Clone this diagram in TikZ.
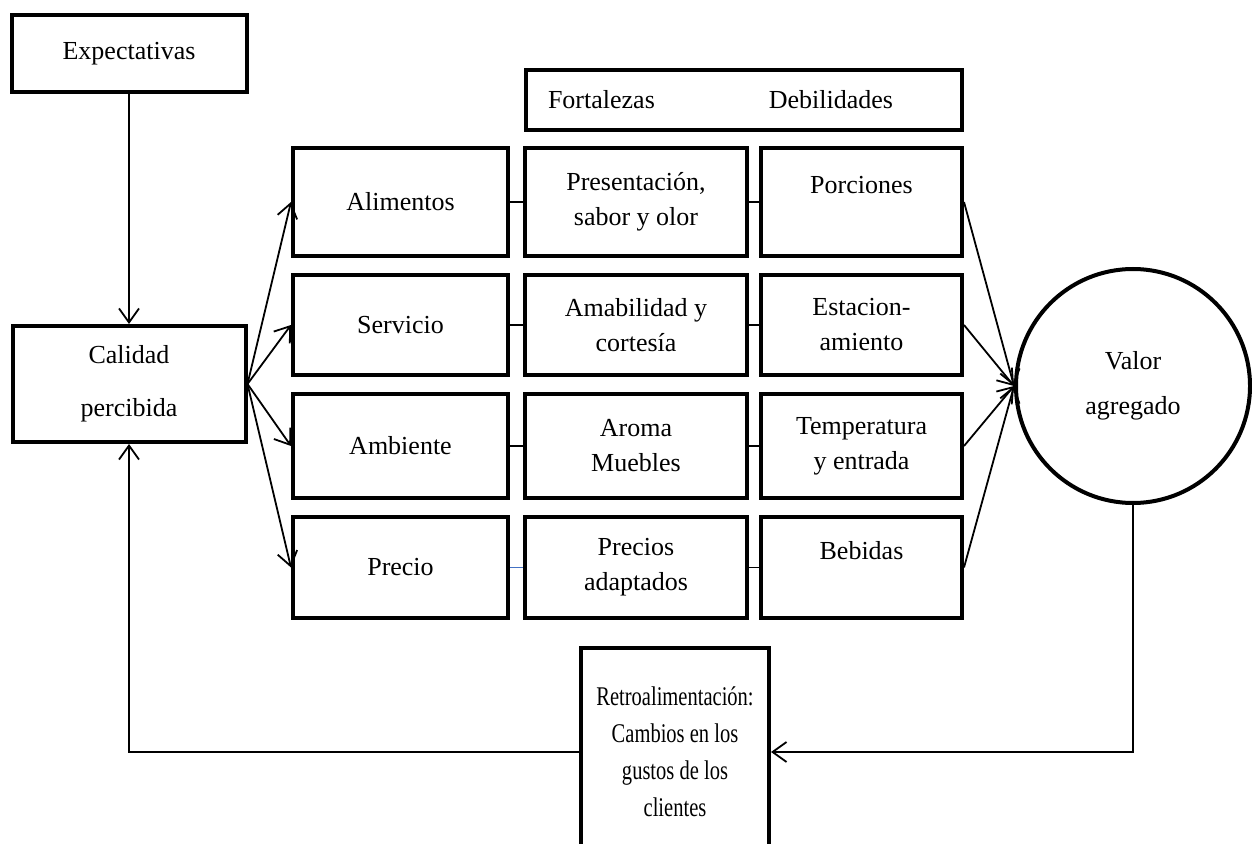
\documentclass[tikz,border=0pt]{standalone}
\usepackage{fontspec}
\setmainfont{Liberation Serif}
\newfontfamily\narrowserif[FakeStretch=0.76]{Liberation Serif}
\definecolor{linkblue}{RGB}{68, 114, 196}
\usepackage{tikz}
\usetikzlibrary{arrows.meta, positioning, calc}

\tikzset{
  box/.style={draw, line width=2pt, align=center, inner sep=2pt, font=\fontsize{13}{17.5}\selectfont},
  conn/.style={line width=0.9pt},
  arr/.style={conn, -{Straight Barb[length=7pt, width=10pt, line width=0.9pt]}}
}

\begin{document}
\begin{tikzpicture}[x=0.5pt, y=-0.5pt]
  \clip (0,0) rectangle (1252,844);

  \node[box, minimum width=117.5pt, minimum height=38.5pt] (expect) at (129,53.5) {Expectativas};
  \node[box, minimum width=116.5pt, minimum height=58pt, font=\fontsize{13}{26.5}\selectfont] (calidad) at (129,384) {Calidad\\percibida};

  \node[box, minimum width=218pt, minimum height=30pt, text width=196pt, inner xsep=11pt, align=left] (fd) at (744,100) {Fortalezas\hspace{57pt}Debilidades};

  % factores
  \node[box, minimum width=107.5pt, minimum height=54pt] (alim) at (400.5,202) {Alimentos};
  \node[box, minimum width=107.5pt, minimum height=50pt] (serv) at (400.5,325) {Servicio};
  \node[box, minimum width=107.5pt, minimum height=51.5pt] (amb) at (400.5,446) {Ambiente};
  \node[box, minimum width=107.5pt, minimum height=50.5pt] (prec) at (400.5,567.5) {Precio};

  % fortalezas
  \node[box, minimum width=111pt, minimum height=54pt] (fort1) at (636,202) {Presentación,\\sabor y olor};
  \node[box, minimum width=111pt, minimum height=50pt] (fort2) at (636,325) {Amabilidad y\\cortesía};
  \node[box, minimum width=111pt, minimum height=51.5pt] (fort3) at (636,446) {Aroma\\Muebles};
  \node[box, minimum width=111pt, minimum height=50.5pt] (fort4) at (636,567.5) {Precios\\adaptados};

  % debilidades
  \node[box, minimum width=100.5pt, minimum height=54pt] (deb1) at (861.5,202) {Porciones\\\mbox{}};
  \node[box, minimum width=100.5pt, minimum height=50pt] (deb2) at (861.5,325) {Estacion-\\amiento};
  \node[box, minimum width=100.5pt, minimum height=51.5pt] (deb3) at (861.5,446) {Temperatura\\y entrada};
  \node[box, minimum width=100.5pt, minimum height=50.5pt] (deb4) at (861.5,567.5) {Bebidas\\\mbox{}};

  \node[draw, circle, line width=2pt, minimum size=117pt, inner sep=0pt, align=center, font=\fontsize{13}{22.5}\selectfont] (valor) at (1133,386) {Valor\\agregado};

  \node[box, minimum width=94pt, minimum height=104pt, font=\narrowserif\fontsize{13.5}{18.5}\selectfont] (retro) at (675,752) {Retroalimentación:\\Cambios en los\\gustos de los\\clientes};

  \draw[arr] (expect) -- (calidad);
  \foreach \f in {alim, serv, amb, prec}
    \draw[arr] (calidad.east) -- (\f.west);

  \draw[conn] (alim) -- (fort1);
  \draw[conn] (serv) -- (fort2);
  \draw[conn] (amb) -- (fort3);
  \draw[conn, linkblue] (prec) -- (fort4);
  \foreach \i in {1,...,4} {
    \draw[conn] (fort\i) -- (deb\i);
    \draw[arr] (deb\i.east) -- (valor.west);
  }

  \draw[arr] (valor.south) |- (retro.east);
  \draw[arr] (retro.west) -| (calidad.south);
\end{tikzpicture}
\end{document}
